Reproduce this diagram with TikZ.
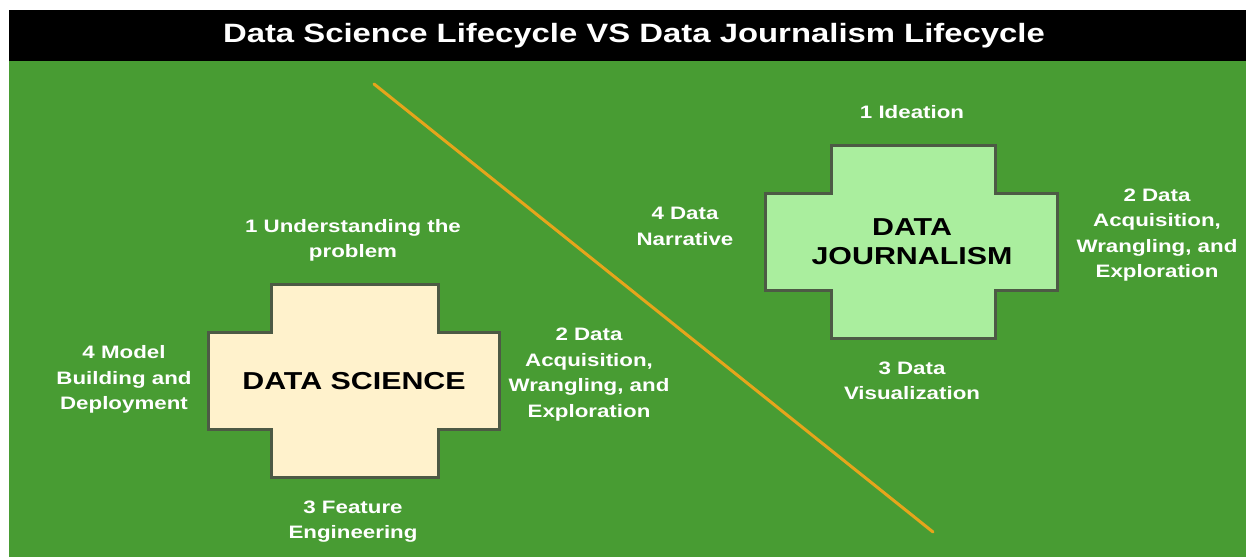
\documentclass[tikz,border=0pt]{standalone}
\usepackage{fontspec}
\setmainfont{Liberation Sans}[FakeStretch=1.24]
\definecolor{fieldgreen}{HTML}{489C33}
\definecolor{crossedge}{HTML}{4D5A45}
\definecolor{creamfill}{HTML}{FFF2CC}
\definecolor{mintfill}{HTML}{AAEE9E}
\definecolor{dividerorange}{HTML}{E6A51B}
\begin{document}
\begin{tikzpicture}[x=1pt,y=-1pt,
  steplabel/.style={text=white, font=\fontsize{18}{25.5}\selectfont\bfseries, align=center, inner sep=0pt},
  crosslabel/.style={text=black, font=\fontsize{24.5}{29}\selectfont\bfseries, align=center, inner sep=0pt},
  crossshape/.style={draw=crossedge, line width=3pt, line join=miter},
  titletext/.style={text=white, font=\fontsize{26.5}{30}\selectfont\bfseries, inner sep=0pt}]
  % canvas and backgrounds
  \fill[white] (0,0) rectangle (1246,557);
  \useasboundingbox (0,0) rectangle (1246,557);
  \fill[black] (9,10) rectangle (1246,61);
  \fill[fieldgreen] (9,61) rectangle (1246,557);
  \node[titletext] (title) at (634,36) {Data Science Lifecycle VS Data Journalism Lifecycle};

  % divider between the two lifecycles
  \coordinate (divA) at (374,84);
  \coordinate (divB) at (933,532);
  \draw[dividerorange, line width=3pt, line cap=round] (divA) -- (divB);

  % data science cross
  \draw[crossshape, fill=creamfill]
    (271,284) -- (438,284) -- (438,332) -- (499,332) -- (499,429) -- (438,429)
    -- (438,477) -- (271,477) -- (271,429) -- (208,429) -- (208,332) -- (271,332) -- cycle;
  \node[crosslabel] (ds) at (354,381) {DATA SCIENCE};

  \node[steplabel] (ds1) at (353,240.5) {1 Understanding the\\problem};
  \node[steplabel] (ds2) at (589,374.5) {2 Data\\Acquisition,\\Wrangling, and\\Exploration};
  \node[steplabel] (ds3) at (353,521.5) {3 Feature\\Engineering};
  \node[steplabel] (ds4) at (124,379.5) {4 Model\\Building and\\Deployment};

  % data journalism cross
  \draw[crossshape, fill=mintfill]
    (831,145) -- (995,145) -- (995,193) -- (1057,193) -- (1057,290) -- (995,290)
    -- (995,338) -- (831,338) -- (831,290) -- (765,290) -- (765,193) -- (831,193) -- cycle;
  \node[crosslabel] (dj) at (912,241.5) {DATA\\JOURNALISM};

  \node[steplabel] (dj1) at (912,112) {1 Ideation};
  \node[steplabel] (dj2) at (1157,235) {2 Data\\Acquisition,\\Wrangling, and\\Exploration};
  \node[steplabel] (dj3) at (912,381) {3 Data\\Visualization};
  \node[steplabel] (dj4) at (685,226.5) {4 Data\\Narrative};
\end{tikzpicture}
\end{document}
